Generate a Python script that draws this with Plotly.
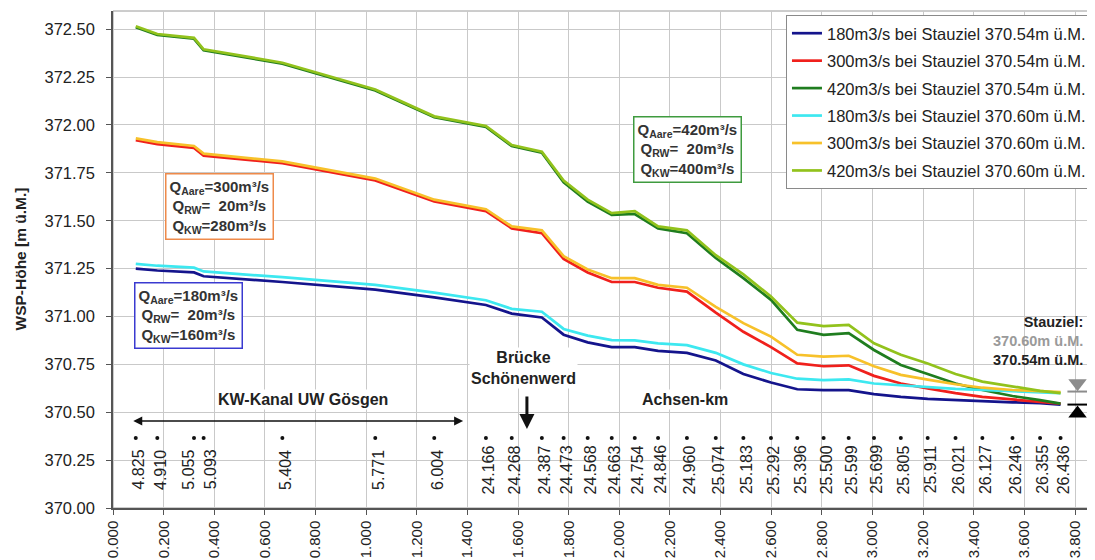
import plotly.graph_objects as go

# ---------------- data ----------------
km_labels = ["4.825", "4.910", "5.055", "5.093", "5.404", "5.771", "6.004",
             "24.166", "24.268", "24.387", "24.473", "24.568", "24.663", "24.754",
             "24.846", "24.960", "25.074", "25.183", "25.292", "25.396", "25.500",
             "25.599", "25.699", "25.805", "25.911", "26.021", "26.127", "26.246",
             "26.355", "26.436"]
dist = [0.090, 0.175, 0.320, 0.358, 0.669, 1.036, 1.269, 1.473, 1.575, 1.694,
        1.780, 1.875, 1.970, 2.061, 2.153, 2.267, 2.381, 2.490, 2.599, 2.703,
        2.807, 2.906, 3.006, 3.112, 3.218, 3.328, 3.434, 3.553, 3.662, 3.743]

q180_054 = [371.25, 371.24, 371.23, 371.21, 371.18, 371.14, 371.10, 371.06, 371.015, 370.995,
            370.905, 370.865, 370.84, 370.84, 370.82, 370.81, 370.77, 370.70, 370.655, 370.62,
            370.615, 370.615, 370.595, 370.58, 370.57, 370.563, 370.557, 370.552, 370.547, 370.54]
q300_054 = [371.92, 371.90, 371.88, 371.84, 371.80, 371.71, 371.60, 371.55, 371.46, 371.435,
            371.30, 371.23, 371.18, 371.18, 371.15, 371.13, 371.02, 370.92, 370.84, 370.755,
            370.74, 370.745, 370.69, 370.65, 370.625, 370.60, 370.58, 370.567, 370.556, 370.545]
q420_054 = [372.51, 372.47, 372.45, 372.39, 372.32, 372.18, 372.04, 371.99, 371.89, 371.855,
            371.70, 371.60, 371.53, 371.535, 371.46, 371.435, 371.305, 371.20, 371.087, 370.93,
            370.904, 370.913, 370.825, 370.747, 370.70, 370.65, 370.616, 370.585, 370.563, 370.545]
q180_060 = [371.275, 371.265, 371.255, 371.235, 371.205, 371.165, 371.125, 371.085, 371.04, 371.025,
            370.935, 370.90, 370.877, 370.875, 370.86, 370.85, 370.81, 370.75, 370.705, 370.675,
            370.668, 370.672, 370.65, 370.64, 370.632, 370.622, 370.616, 370.61, 370.605, 370.60]
q300_060 = [371.93, 371.91, 371.89, 371.85, 371.81, 371.72, 371.61, 371.56, 371.47, 371.45,
            371.315, 371.245, 371.20, 371.20, 371.165, 371.15, 371.05, 370.965, 370.895, 370.80,
            370.79, 370.795, 370.74, 370.695, 370.67, 370.646, 370.628, 370.616, 370.61, 370.605]
q420_060 = [372.515, 372.475, 372.455, 372.395, 372.325, 372.185, 372.045, 371.995, 371.895, 371.86,
            371.71, 371.61, 371.54, 371.55, 371.47, 371.45, 371.32, 371.22, 371.104, 370.968,
            370.95, 370.956, 370.86, 370.80, 370.755, 370.70, 370.66, 370.633, 370.612, 370.60]

series_names = ["180m3/s bei Stauziel 370.54m ü.M.", "300m3/s bei Stauziel 370.54m ü.M.",
                "420m3/s bei Stauziel 370.54m ü.M.", "180m3/s bei Stauziel 370.60m ü.M.",
                "300m3/s bei Stauziel 370.60m ü.M.", "420m3/s bei Stauziel 370.60m ü.M."]
series_values = [q180_054, q300_054, q420_054, q180_060, q300_060, q420_060]
series_colors = ["#14148c", "#f0201c", "#1f7d1f", "#3de8f0", "#f7c12a", "#92c21c"]

stauziel_levels = [370.60, 370.54]
km_marker_level = 370.365
km_label_level = 370.20

FONT = "Liberation Sans, Arial, sans-serif"

fig = go.Figure()
for name, vals, col in zip(series_names, series_values, series_colors):
    fig.add_trace(go.Scatter(x=dist, y=vals, mode="lines", name=name, legendgroup=name,
                             line=dict(color=col, width=2.7)))

# station markers
fig.add_trace(go.Scatter(x=dist, y=[km_marker_level] * len(dist), mode="markers",
                         marker=dict(color="#111", size=4), showlegend=False, hoverinfo="skip"))

# Stauziel symbols
fig.add_trace(go.Scatter(x=[3.810], y=[stauziel_levels[0] + 0.052], mode="markers",
                         marker=dict(symbol="triangle-down", size=16, color="#8c8c8c"),
                         showlegend=False, hoverinfo="skip"))
fig.add_trace(go.Scatter(x=[3.810], y=[stauziel_levels[1] - 0.046], mode="markers",
                         marker=dict(symbol="triangle-up", size=16, color="#000"),
                         showlegend=False, hoverinfo="skip"))
fig.add_shape(type="line", x0=3.77, x1=3.852, y0=stauziel_levels[0] + 0.008, y1=stauziel_levels[0] + 0.008,
              line=dict(color="#8c8c8c", width=2))
fig.add_shape(type="line", x0=3.77, x1=3.852, y0=stauziel_levels[1], y1=stauziel_levels[1],
              line=dict(color="#000", width=2))

# small manual offsets for the two crowded labels (as in the original)
label_shift = {"5.055": -5, "5.093": 7}
annotations = []
for xv, lab in zip(dist, km_labels):
    annotations.append(dict(x=xv, y=km_label_level, xref="x", yref="y", text=lab, showarrow=False,
                            textangle=-90, xshift=label_shift.get(lab, 3),
                            font=dict(family=FONT, size=16, color="#222")))

box_font = dict(family=FONT, size=15, color="#333")
nb = "\u00a0"
annotations += [
    dict(x=0.420, y=371.574, xref="x", yref="y", showarrow=False, align="center",
         text="<b>Q<sub>Aare</sub>=300m³/s<br>Q<sub>RW</sub>=" + nb * 2 + "20m³/s<br>Q<sub>KW</sub>=280m³/s</b>",
         bordercolor="#ee8a4a", borderwidth=1.5, borderpad=3, bgcolor="white", font=box_font),
    dict(x=0.300, y=371.003, xref="x", yref="y", showarrow=False, align="center",
         text="<b>Q<sub>Aare</sub>=180m³/s<br>Q<sub>RW</sub>=" + nb * 2 + "20m³/s<br>Q<sub>KW</sub>=160m³/s</b>",
         bordercolor="#3a3ad0", borderwidth=1.5, borderpad=3, bgcolor="white", font=box_font),
    dict(x=2.268, y=371.871, xref="x", yref="y", showarrow=False, align="center",
         text="<b>Q<sub>Aare</sub>=420m³/s<br>Q<sub>RW</sub>=" + nb * 2 + "20m³/s<br>Q<sub>KW</sub>=400m³/s</b>",
         bordercolor="#3f9b3f", borderwidth=1.5, borderpad=3, bgcolor="white", font=box_font),
    # text labels
    dict(x=0.75, y=370.565, xref="x", yref="y", showarrow=False, text="<b>KW-Kanal UW Gösgen</b>",
         bgcolor="white", font=dict(family=FONT, size=16, color="#222")),
    dict(x=2.258, y=370.565, xref="x", yref="y", showarrow=False, text="<b>Achsen-km</b>",
         bgcolor="white", font=dict(family=FONT, size=16, color="#222")),
    dict(x=1.62, y=370.73, xref="x", yref="y", showarrow=False, text="<b>Brücke<br>Schönenwerd</b>",
         bgcolor="white", font=dict(family=FONT, size=16, color="#222")),
    dict(x=3.838, y=370.872, xref="x", yref="y", showarrow=False, xanchor="right", align="right",
         text="<b>Stauziel:<br><span style='color:#9a9a9a'>370.60m ü.M.</span><br>370.54m ü.M.</b>",
         font=dict(family=FONT, size=14.5, color="#222")),
    # arrows
    dict(x=1.383, y=370.454, ax=0.074, ay=370.454, xref="x", yref="y", axref="x", ayref="y",
         text="", showarrow=True, arrowhead=2, startarrowhead=2, arrowside="end+start",
         arrowsize=1.2, startarrowsize=1.2, arrowwidth=1.5, arrowcolor="#111"),
    dict(x=1.635, y=370.412, ax=1.635, ay=370.59, xref="x", yref="y", axref="x", ayref="y",
         text="", showarrow=True, arrowhead=2, arrowsize=1, arrowwidth=3, arrowcolor="#111"),
    # y-axis title
    dict(x=0, y=0.5, xref="paper", yref="paper", xanchor="center", yanchor="middle",
         xshift=-93, showarrow=False, textangle=-90,
         text="<b>WSP-Höhe [m ü.M.]</b>", font=dict(family=FONT, size=15.5, color="#222")),
]

# the page body adds an 8px offset, so the figure is sized to end at the window edge
fig.update_layout(
    width=1087, height=552,
    margin=dict(l=105, r=1, t=3, b=52),
    paper_bgcolor="white", plot_bgcolor="white",
    font=dict(family=FONT, size=15, color="#222"),
    annotations=annotations,
    showlegend=True,
    legend=dict(x=0.686, y=0.992, xanchor="left", yanchor="top", bgcolor="white",
                bordercolor="#8a8a8a", borderwidth=1, tracegroupgap=3,
                font=dict(family=FONT, size=16.5, color="#222"), itemwidth=30),
    xaxis=dict(range=[0, 3.875], tick0=0, dtick=0.2, tickformat=".3f", tickangle=-90,
               showgrid=True, gridcolor="#c9c9c9", gridwidth=1, zeroline=False,
               showline=True, linecolor="#555", linewidth=1.5, mirror=False,
               ticks="outside", ticklen=5, tickcolor="#555", automargin=False,
               tickfont=dict(family=FONT, size=15, color="#222")),
    yaxis=dict(range=[370, 372.595], tick0=370, dtick=0.25, tickformat=".2f",
               showgrid=True, gridcolor="#c9c9c9", gridwidth=1, zeroline=False,
               showline=True, linecolor="#555", linewidth=1.5,
               ticks="outside", ticklen=5, tickcolor="#555", automargin=False,
               ticklabelstandoff=8,
               tickfont=dict(family=FONT, size=16.5, color="#222")),
)
# top/right frame
fig.add_shape(type="rect", xref="paper", yref="paper", x0=0, x1=1, y0=0, y1=1,
              line=dict(color="#9a9a9a", width=1), layer="below")

fig.write_html("out.html")
